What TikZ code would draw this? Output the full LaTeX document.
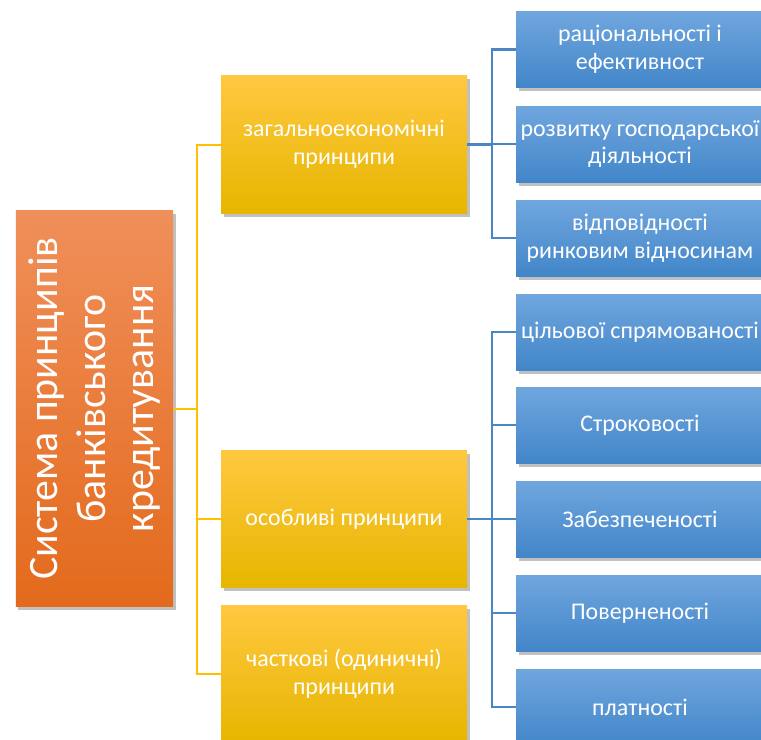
\documentclass[tikz,border=0pt]{standalone}
\usepackage{fontspec}
\setmainfont{Carlito}
\usetikzlibrary{shadows}
\definecolor{orTop}{RGB}{240,143,90}
\definecolor{orBot}{RGB}{227,106,28}
\definecolor{yeTop}{RGB}{255,200,64}
\definecolor{yeMid}{RGB}{255,192,0}
\definecolor{yeBot}{RGB}{230,182,0}
\definecolor{blTop}{RGB}{112,166,222}
\definecolor{blMid}{RGB}{88,152,214}
\definecolor{blBot}{RGB}{66,134,201}
\definecolor{yLine}{RGB}{255,192,0}
\definecolor{bLine}{RGB}{74,134,197}
\tikzset{
  boxshadow/.style={drop shadow={opacity=0.35,shadow xshift=2.5bp,shadow yshift=-3.5bp,fill=black!70}},
  rootbox/.style={boxshadow,top color=orTop,bottom color=orBot,minimum width=157bp,minimum height=395bp,inner sep=0},
  midbox/.style={boxshadow,top color=yeTop,middle color=yeMid,bottom color=yeBot,minimum width=246bp,minimum height=137bp,inner sep=0,text=white,align=center,font=\fontsize{24}{28}\selectfont},
  leafbox/.style={boxshadow,top color=blTop,middle color=blMid,bottom color=blBot,minimum width=248bp,minimum height=76bp,inner sep=0,text=white,align=center,font=\fontsize{24}{28}\selectfont},
  yline/.style={draw=yLine,line width=2bp},
  bline/.style={draw=bLine,line width=2.4bp},
}
\begin{document}
\begin{tikzpicture}[x=1bp,y=-1bp]
\useasboundingbox (0,0) rectangle (761,740);
\fill[white] (0,0) rectangle (761,740);
% root
\node[rootbox] (root) at (94.5,408.5) {};
\node[text=white,rotate=90,align=center,font=\fontsize{42}{48}\selectfont] (rootlabel) at (root.center) {Система принципів\\банківського\\кредитування};
% middle
\node[midbox] (g1) at (344,144.5) {загальноекономічні\\принципи};
\node[midbox] (g2) at (344,519) {особливі принципи};
\node[midbox] (g3) at (344,673.5) {часткові (одиничні)\\принципи};
% leaves top
\node[leafbox] (a1) at (640,49.5) {раціональності і\\ефективност};
\node[leafbox] (a2) at (640,144) {розвитку господарської\\діяльності};
\node[leafbox] (a3) at (640,238) {відповідності\\ринковим відносинам};
% leaves bottom
\node[leafbox] (b1) at (640,332) {цільової спрямованості};
\node[leafbox] (b2) at (640,425) {Строковості};
\node[leafbox] (b3) at (640,519) {Забезпеченості};
\node[leafbox] (b4) at (640,613) {Поверненості};
\node[leafbox] (b5) at (640,707) {платності};
% buses
\coordinate (yb) at (197,0);
\coordinate (bb) at (492,0);
\draw[yline] (root.east) -- (root.east -| yb);
\draw[yline] (g1.west) -| (yb |- g3.west) -- (g3.west);
\draw[yline] (g2.west) -- (g2.west -| yb);
\draw[bline] (g1.east) -- (g1.east -| bb);
\draw[bline] (a1.west) -| (bb |- a3.west) -- (a3.west);
\draw[bline] (a2.west) -- (a2.west -| bb);
\draw[bline] (g2.east) -- (g2.east -| bb);
\draw[bline] (b1.west) -| (bb |- b5.west) -- (b5.west);
\draw[bline] (b2.west) -- (b2.west -| bb);
\draw[bline] (b3.west) -- (b3.west -| bb);
\draw[bline] (b4.west) -- (b4.west -| bb);
\end{tikzpicture}
\end{document}
